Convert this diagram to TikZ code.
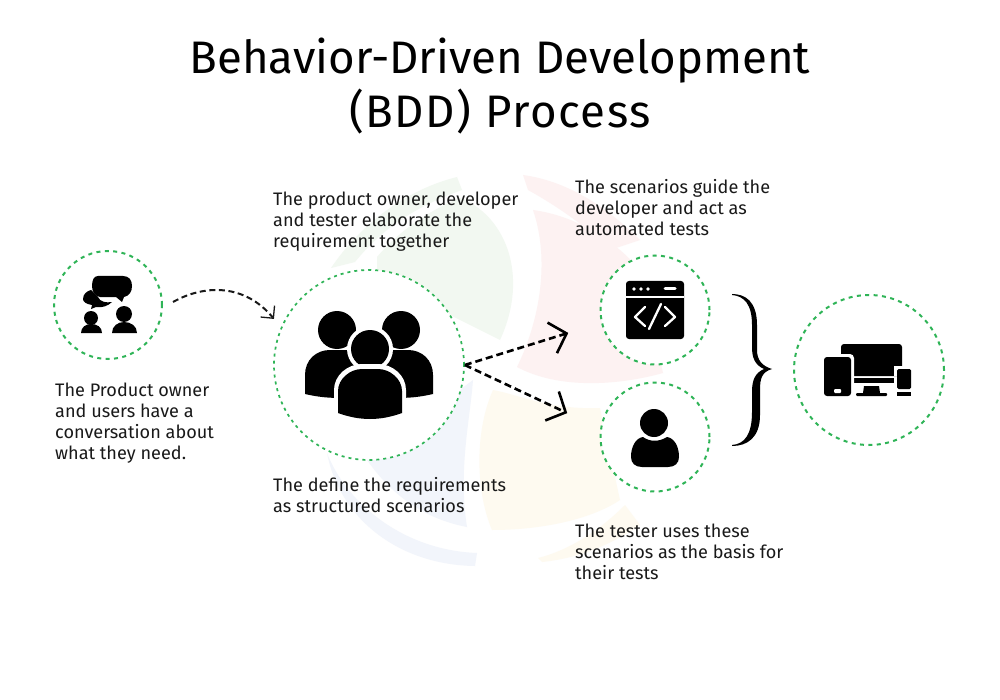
\documentclass[tikz,border=0pt]{standalone}
\usepackage{fontspec}
\setmainfont{Fira Sans}
\usetikzlibrary{arrows.meta}
\definecolor{ringgreen}{HTML}{2FB457}
\definecolor{wmgreen}{HTML}{F2F8F1}
\definecolor{wmred}{HTML}{FDF2F2}
\definecolor{wmyellow}{HTML}{FEFAF0}
\definecolor{wmblue}{HTML}{F2F5FB}
\pgfdeclarearrow{
  name=OpenBig,
  setup code={\pgfarrowssettipend{1.5pt}\pgfarrowssetlineend{-1pt}\pgfarrowssetvisualbackend{-15pt}},
  drawing code={\pgfsetdash{}{0pt}\pgfsetlinewidth{2.6pt}\pgfsetmiterjoin
    \pgfpathmoveto{\pgfqpoint{-15pt}{16pt}}\pgfpathlineto{\pgfqpoint{0pt}{0pt}}\pgfpathlineto{\pgfqpoint{-15pt}{-16pt}}\pgfusepathqstroke}
}
\pgfdeclarearrow{
  name=OpenSmall,
  setup code={\pgfarrowssettipend{1pt}\pgfarrowssetlineend{-1pt}\pgfarrowssetvisualbackend{-9pt}},
  drawing code={\pgfsetdash{}{0pt}\pgfsetlinewidth{1.3pt}\pgfsetmiterjoin
    \pgfpathmoveto{\pgfqpoint{-9pt}{9pt}}\pgfpathlineto{\pgfqpoint{0pt}{0pt}}\pgfpathlineto{\pgfqpoint{-9pt}{-9pt}}\pgfusepathqstroke}
}
\tikzset{
  ring/.style={circle,draw=ringgreen,fill=white,line width=2pt,dash pattern=on 4pt off 4.4pt,minimum size=#1,inner sep=0pt},
  bigring/.style={circle,draw=ringgreen,fill=white,line width=1.7pt,dash pattern=on 3pt off 4pt,minimum size=#1,inner sep=0pt},
  flow/.style={draw=black,dash pattern=on 7pt off 4pt,line width=2.6pt,-OpenBig},
  flowthin/.style={draw=black!90,dash pattern=on 6pt off 3.6pt,line width=2pt,-OpenSmall},
  caption/.style={anchor=north west,align=left,inner sep=0pt,font=\fontsize{18.1}{21}\selectfont,text=black!90},
  titletext/.style={align=center,inner sep=0pt,font=\fontsize{45.6}{54.5}\selectfont},
  ico/.style={fill=black,draw=none},
}
\begin{document}
\begin{tikzpicture}[x=1pt,y=-1pt]
\useasboundingbox (0,0) rectangle (1000,700);
\fill[white] (0,0) rectangle (1000,700);
% watermark
\fill[wmgreen] (331,268) .. controls (360,225) and (405,190) .. (457,177) -- (462,190) .. controls (420,205) and (385,225) .. (355,262) -- cycle;
\fill[wmgreen] (377,257) .. controls (400,230) and (430,210) .. (460,198) .. controls (505,215) and (530,275) .. (500,340) -- (440,310) -- (377,280) -- cycle;
\fill[wmred] (523,175) .. controls (560,180) and (600,200) .. (640,240) -- (610,250) .. controls (585,225) and (555,205) .. (528,190) -- cycle;
\fill[wmred] (533,210) .. controls (570,215) and (610,235) .. (640,270) -- (663,373) .. controls (620,385) and (560,390) .. (517,367) .. controls (540,320) and (550,260) .. (533,210) -- cycle;
\fill[wmyellow] (493,390) .. controls (520,395) and (550,410) .. (600,408) -- (620,500) .. controls (590,520) and (540,530) .. (492,530) .. controls (475,490) and (475,430) .. (493,390) -- cycle;
\fill[wmyellow] (538,558) .. controls (570,550) and (600,530) .. (625,505) -- (640,525) .. controls (610,545) and (580,558) .. (542,562) -- cycle;
\fill[wmblue] (473,380) .. controls (470,420) and (458,470) .. (467,527) .. controls (430,520) and (395,500) .. (367,460) -- (420,420) -- cycle;
\fill[wmblue] (327,453) .. controls (345,500) and (400,550) .. (477,553) -- (475,566) .. controls (400,565) and (340,520) .. (327,453) -- cycle;
% title
\node[titletext] (title) at (500,86) {Behavior-Driven Development\\{\addfontfeature{LetterSpace=3.5}(BDD) Process}};
% rings
\node[ring=108pt] (owner) at (108,305) {};
\node[bigring=190pt] (team) at (369,365) {};
\node[ring=109pt] (dev) at (655,310) {};
\node[ring=109pt] (tester) at (655,437) {};
\node[ring=150pt] (product) at (869,370) {};
% connector ends
\coordinate (ownerout) at (173,302);
\coordinate (teamin) at (274,319);
\coordinate (devin) at (568,333);
\coordinate (testin) at (567,413);
\draw[flowthin] (ownerout) .. controls (205,284) and (245,284) .. (teamin);
\draw[flow] (team.east) -- (devin);
\draw[flow] (team.east) -- (testin);
% owner icon
\fill[ico] (83,299) .. controls (83,294) and (87,291) .. (91,290) -- (98,297) .. controls (100,302) and (106,303) .. (112,302) .. controls (108,306) and (102,308) .. (96,307) -- (91,309) -- (92,305) .. controls (86,304) and (83,302) .. (83,299) -- cycle;
\fill[ico] (98,276) -- (123,276) .. controls (129,276) and (132,280) .. (132,286) .. controls (132,292) and (129,296) .. (124,297) -- (122,302) -- (116,297) -- (100,297) .. controls (95,296) and (92,292) .. (92,286) .. controls (92,280) and (94,276) .. (98,276) -- cycle;
\fill[ico] (91,318) circle (7);
\fill[ico] (81,333) .. controls (81,327) and (86,324) .. (91,324) .. controls (97,324) and (102,327) .. (102,333) -- cycle;
\fill[ico] (124,314) circle (8);
\fill[ico] (112,333) .. controls (112,326) and (118,322) .. (124,322) .. controls (131,322) and (137,326) .. (137,333) -- cycle;
% team icon
\fill[ico] (337,330) circle (19) (401,330) circle (19);
\fill[ico] (305,394) -- (305,375) .. controls (305,360) and (316,350) .. (330,350) -- (408,350) .. controls (422,350) and (433,360) .. (433,375) -- (433,394) .. controls (420,397) and (410,398) .. (396,398) -- (342,398) .. controls (328,398) and (318,397) .. (305,394) -- cycle;
\fill[white] (370,349) circle (23);
\fill[ico] (370,349) circle (19);
\fill[white] (334,422) -- (334,390) .. controls (334,375) and (348,364) .. (362,364) -- (378,364) .. controls (392,364) and (406,375) .. (406,390) -- (406,422) -- cycle;
\fill[ico] (338,413) -- (338,391) .. controls (338,379) and (350,369) .. (362,369) -- (378,369) .. controls (390,369) and (402,379) .. (402,391) -- (402,413) .. controls (380,421) and (360,421) .. (338,413) -- cycle;
% code icon
\fill[ico,rounded corners=3pt] (626,281) rectangle (684,339);
\draw[white,line width=1.4pt] (626,297) -- (684,297);
\fill[white] (634,289) circle (1.8) (641,289) circle (1.8) (648,289) circle (1.8);
\draw[white,line width=3pt,line cap=round] (665,289) -- (675,289);
\draw[white,line width=2.3pt,line cap=round,line join=round] (645,307) -- (635,317) -- (645,326);
\draw[white,line width=2.3pt,line cap=round,line join=round] (665,307) -- (675,317) -- (665,326);
\draw[white,line width=2.3pt,line cap=round] (661,304) -- (649,329);
% tester icon
\fill[ico] (654,423) circle (14);
\fill[ico] (642,467) .. controls (635,467) and (631,463) .. (631,457) .. controls (631,446) and (636,438) .. (643,437) .. controls (650,442) and (659,442) .. (667,437) .. controls (674,438) and (679,446) .. (679,457) .. controls (679,463) and (675,467) .. (668,467) -- cycle;
% devices icon
\fill[ico,rounded corners=3pt] (841,344) rectangle (902,376);
\fill[ico] (852,355) rectangle (902,376);
\fill[ico] (853,378) rectangle (894,383);
\fill[ico] (864,386) -- (879,386) -- (880,393) -- (863,393) -- cycle;
\fill[ico,rounded corners=1pt] (856,393) rectangle (887,396);
\fill[white,rounded corners=4pt] (821,354) rectangle (854,399);
\fill[ico,rounded corners=3pt] (824,357) rectangle (851,396);
\fill[white,rounded corners=1pt] (834,389) rectangle (841,393);
\fill[white] (894,366) rectangle (914,376);
\fill[ico,rounded corners=1.5pt] (897,369) rectangle (911,389);
\fill[ico] (897,392) rectangle (911,396);
% brace
\fill[black] (732,294) .. controls (745,294) and (757,301) .. (757,325) -- (757,350) .. controls (757,360) and (762,366) .. (772,369) .. controls (762,372) and (760,378) .. (760,390) -- (760,415) .. controls (760,438) and (747,446) .. (732,446) -- (732,445) .. controls (745,444) and (752,434) .. (752,412) -- (752,392) .. controls (752,380) and (755,373) .. (764,369) .. controls (755,365) and (752,358) .. (752,347) -- (752,325) .. controls (752,304) and (744,296) .. (732,295) -- cycle;
% captions
\node[caption] (c1) at (55,383) {The Product owner\\and users have a\\conversation about\\what they need.};
\node[caption] (c2) at (273,192) {The product owner, developer\\and tester elaborate the\\requirement together};
\node[caption] (c3) at (273,477) {The define the requirements\\as structured scenarios};
\node[caption] (c4) at (575,179) {The scenarios guide the\\developer and act as\\automated tests};
\node[caption] (c5) at (575,524) {The tester uses these\\scenarios as the basis for\\their tests};
\end{tikzpicture}
\end{document}
